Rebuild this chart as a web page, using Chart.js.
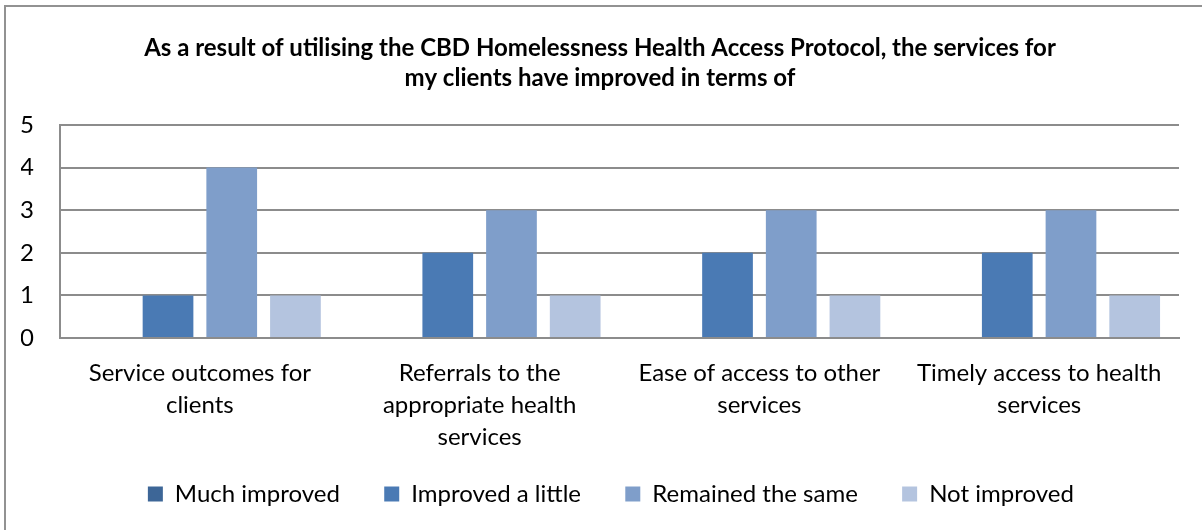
<!DOCTYPE html>
<html>
<head>
<meta charset="utf-8">
<script src="https://cdn.jsdelivr.net/npm/chart.js@4/dist/chart.umd.min.js"></script>
<style>
  html, body { margin: 0; padding: 0; background: #fff; }
  #wrap { width: 1202px; height: 530px; position: relative; }
</style>
</head>
<body>
<div id="wrap"><canvas id="grafico" width="1202" height="530"></canvas></div>
<script>
const categorias = [
  ["Service outcomes for", "clients"],
  ["Referrals to the", "appropriate health", "services"],
  ["Ease of access to other", "services"],
  ["Timely access to health", "services"]
];
const muitoMelhor = [0, 0, 0, 0];
const melhorouPouco = [1, 2, 2, 2];
const igual = [4, 3, 3, 3];
const naoMelhorou = [1, 1, 1, 1];
const tituloLinhas = [
  "As a result of utilising the CBD Homelessness Health Access Protocol, the services for",
  "my clients have improved in terms of"
];

const fonte = "Lato, 'Open Sans', sans-serif";

// moldura cinza em volta do grafico
const moldura = {
  id: "moldura",
  beforeDraw(chart) {
    const ctx = chart.ctx;
    ctx.save();
    ctx.strokeStyle = "#929292";
    ctx.lineWidth = 2;
    ctx.strokeRect(5, 6, 1260, 600);
    ctx.restore();
  }
};

// empurra a legenda um pouco para a direita
const ajusteLegenda = {
  id: "ajusteLegenda",
  afterLayout(chart) {
    chart.legend.left += 17;
    chart.legend.right += 17;
  }
};

new Chart(document.getElementById("grafico").getContext("2d"), {
  type: "bar",
  data: {
    labels: categorias,
    datasets: [
      { label: "Much improved", data: muitoMelhor, backgroundColor: "#3d6697" },
      { label: "Improved a little", data: melhorouPouco, backgroundColor: "#4a7ab4" },
      { label: "Remained the same", data: igual, backgroundColor: "#7f9eca" },
      { label: "Not improved", data: naoMelhorou, backgroundColor: "#b4c4df" }
    ]
  },
  options: {
    responsive: false,
    animation: false,
    events: [],
    categoryPercentage: 0.911,
    barPercentage: 0.796,
    layout: { padding: { left: 21, right: 23, top: 0, bottom: 14 } },
    plugins: {
      title: {
        display: true,
        text: tituloLinhas,
        color: "#000",
        font: { family: fonte, size: 24, weight: "bold", lineHeight: 1.25 },
        padding: { top: 33, bottom: 32 }
      },
      legend: {
        position: "bottom",
        labels: {
          color: "#000",
          boxWidth: 15,
          boxHeight: 15,
          padding: 32,
          font: { family: fonte, size: 24 },
          // espaco extra entre os itens da legenda
          generateLabels(chart) {
            return Chart.defaults.plugins.legend.labels.generateLabels(chart)
              .map(item => ({ ...item, text: item.text + "  " }));
          }
        }
      },
      tooltip: { enabled: false }
    },
    scales: {
      x: {
        grid: { display: false, drawTicks: false },
        border: { display: true, color: "#8c8c8c", width: 2 },
        ticks: {
          color: "#000",
          autoSkip: false,
          maxRotation: 0,
          padding: 19,
          font: { family: fonte, size: 24, lineHeight: 1.33 }
        },
        afterFit(scale) { scale.height = 112; }
      },
      y: {
        min: 0,
        max: 5,
        ticks: {
          stepSize: 1,
          color: "#000",
          padding: 26,
          font: { family: fonte, size: 24 }
        },
        grid: { color: "#8c8c8c", lineWidth: 2, drawTicks: false },
        border: { display: true, color: "#8c8c8c", width: 2 },
        afterFit(scale) { scale.width = 39; }
      }
    }
  },
  plugins: [moldura, ajusteLegenda]
});
</script>
</body>
</html>
